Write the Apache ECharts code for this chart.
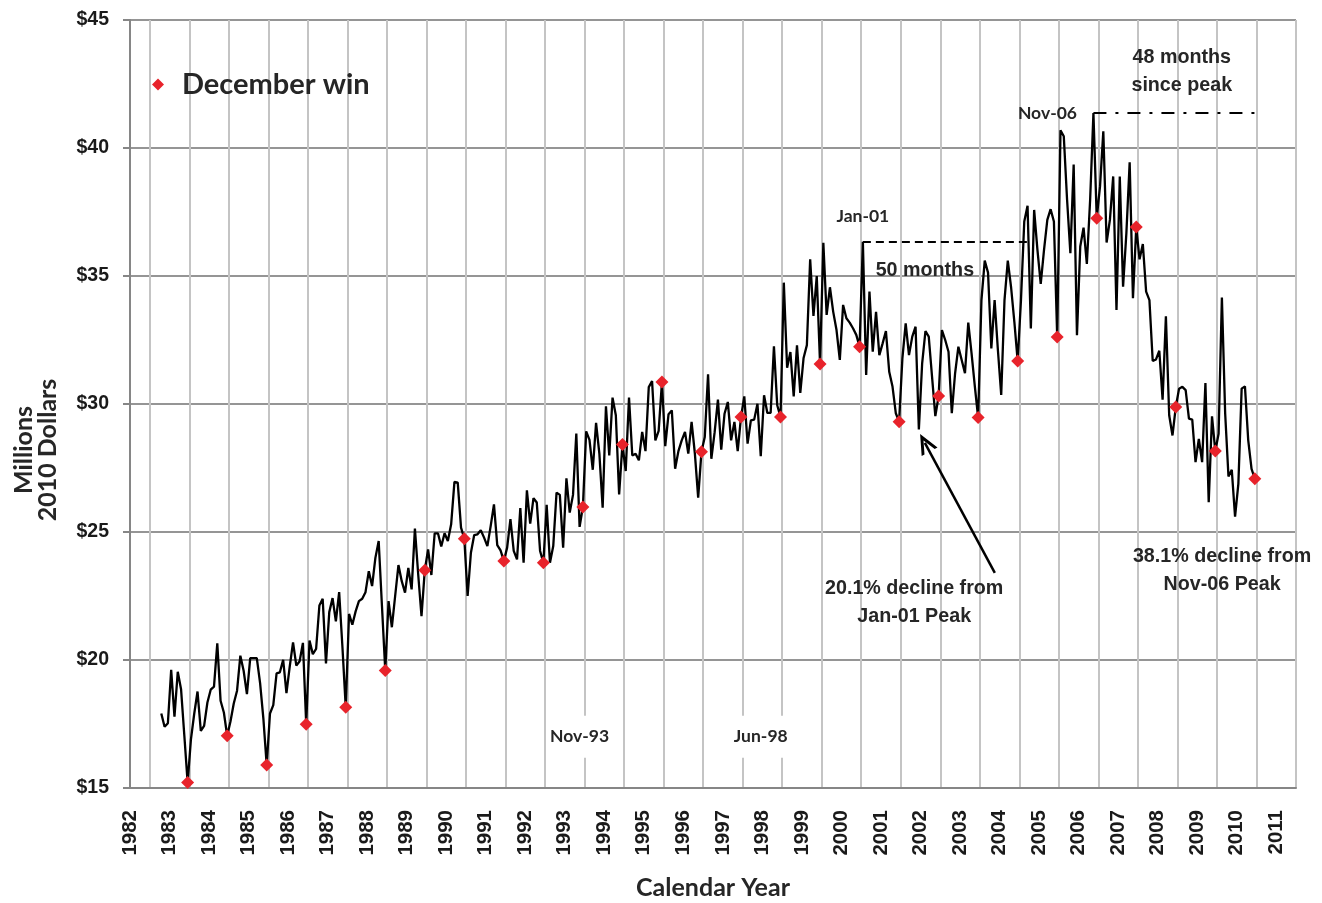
<!DOCTYPE html>
<html>
<head>
<meta charset="utf-8">
<script src="https://cdn.jsdelivr.net/npm/echarts@6/dist/echarts.min.js"></script>
<style>
  html, body { margin: 0; padding: 0; background: #fff; }
  #chart { width: 1322px; height: 903px; }
</style>
</head>
<body>
<div id="chart"></div>
<script>
// monthly values, millions of 2010 dollars; first point is Apr 1983
const firstYear = 1983;
const firstMonth = 4;
const sales1983 = [17.91, 17.39, 17.53, 19.62, 17.79, 19.54, 18.86, 17.04, 15.21];
const sales1984 = [16.9, 17.9, 18.77, 17.23, 17.43, 18.34, 18.84, 18.96, 20.65, 18.41, 17.95, 17.04];
const sales1985 = [17.6, 18.3, 18.8, 20.17, 19.58, 18.67, 20.07, 20.07, 20.07, 19.1, 17.7, 15.9];
const sales1986 = [17.91, 18.24, 19.48, 19.52, 20.01, 18.71, 19.75, 20.69, 19.78, 19.95, 20.67, 17.49];
const sales1987 = [20.76, 20.23, 20.43, 22.13, 22.39, 19.87, 21.87, 22.42, 21.51, 22.65, 20.5, 18.15];
const sales1988 = [21.8, 21.38, 21.9, 22.3, 22.39, 22.65, 23.47, 22.89, 23.99, 24.65, 22.1, 19.59];
const sales1989 = [22.3, 21.28, 22.5, 23.71, 23.08, 22.63, 23.6, 22.76, 25.13, 23.34, 21.71, 23.51];
const sales1990 = [24.32, 23.32, 24.95, 24.95, 24.43, 24.95, 24.65, 25.3, 26.96, 26.93, 25.17, 24.74];
const sales1991 = [22.5, 24.19, 24.88, 24.91, 25.07, 24.78, 24.45, 25.23, 26.08, 24.49, 24.28, 23.87];
const sales1992 = [24.39, 25.5, 24.26, 23.93, 25.93, 23.8, 26.63, 25.33, 26.32, 26.15, 24.26, 23.8];
const sales1993 = [26.06, 23.8, 24.45, 26.54, 26.45, 24.39, 27.1, 25.76, 26.45, 28.85, 25.2, 25.98];
const sales1994 = [28.93, 28.6, 27.43, 29.26, 28.06, 25.95, 29.91, 27.99, 30.25, 29.56, 26.47, 28.42];
const sales1995 = [27.38, 30.25, 27.99, 28.06, 27.8, 28.91, 28.16, 30.66, 30.9, 28.58, 28.95, 30.86];
const sales1996 = [28.35, 29.6, 29.75, 27.47, 28.16, 28.58, 28.91, 28.06, 29.3, 28.06, 26.34, 28.13];
const sales1997 = [28.71, 31.16, 27.86, 28.9, 30.17, 28.22, 29.62, 30.08, 28.58, 29.3, 28.16, 29.49];
const sales1998 = [30.3, 28.45, 29.36, 29.39, 30.01, 27.96, 30.34, 29.65, 29.65, 32.25, 29.95, 29.49];
const sales1999 = [34.74, 31.42, 32.03, 30.3, 32.29, 30.43, 31.8, 32.3, 35.65, 33.44, 35.0, 31.56];
const sales2000 = [36.3, 33.48, 34.56, 33.6, 32.89, 31.72, 33.87, 33.35, 33.18, 32.96, 32.7, 32.24];
const sales2001 = [36.34, 31.13, 34.39, 32.04, 33.6, 31.91, 32.37, 32.85, 31.26, 30.68, 29.64, 29.31];
const sales2002 = [31.78, 33.15, 31.91, 32.63, 33.02, 29.01, 31.59, 32.85, 32.63, 31.07, 29.53, 30.31];
const sales2003 = [32.89, 32.5, 32.04, 29.64, 31.2, 32.24, 31.72, 31.2, 33.18, 31.98, 30.68, 29.47];
const sales2004 = [34.06, 35.6, 35.13, 32.17, 34.06, 32.1, 30.35, 34.06, 35.6, 34.56, 33.2, 31.68];
const sales2005 = [34.06, 37.13, 37.74, 32.95, 37.58, 36.02, 34.69, 36.02, 37.19, 37.61, 37.13, 32.62];
const sales2006 = [40.69, 40.46, 37.98, 35.89, 39.35, 32.69, 36.15, 36.89, 35.47, 37.98, 41.37, 37.26];
const sales2007 = [38.5, 40.65, 36.31, 37.19, 38.89, 33.67, 38.89, 34.58, 36.67, 39.44, 34.13, 36.91];
const sales2008 = [35.65, 36.25, 34.39, 34.06, 31.68, 31.74, 32.08, 30.17, 33.43, 29.56, 28.77, 29.88];
const sales2009 = [30.6, 30.67, 30.54, 29.43, 29.39, 27.73, 28.64, 27.73, 30.82, 26.16, 29.52, 28.16];
const sales2010 = [28.84, 34.16, 29.62, 27.17, 27.43, 25.6, 26.88, 30.6, 30.69, 28.58, 27.47, 27.08];

const yearLabels = ['1982', '1983', '1984', '1985', '1986', '1987', '1988', '1989', '1990', '1991',
  '1992', '1993', '1994', '1995', '1996', '1997', '1998', '1999', '2000', '2001',
  '2002', '2003', '2004', '2005', '2006', '2007', '2008', '2009', '2010', '2011'];

const allYears = [sales1983, sales1984, sales1985, sales1986, sales1987, sales1988, sales1989,
  sales1990, sales1991, sales1992, sales1993, sales1994, sales1995, sales1996, sales1997,
  sales1998, sales1999, sales2000, sales2001, sales2002, sales2003, sales2004, sales2005,
  sales2006, sales2007, sales2008, sales2009, sales2010];

// month -> position on a fractional-year axis (middle of the month)
function monthPos(year, month) {
  return year + (month - 0.5) / 12;
}

const points = [];
allYears.forEach((arr, i) => {
  const year = firstYear + i;
  const m0 = i === 0 ? firstMonth : 1;
  arr.forEach((v, j) => {
    points.push({ year: year, month: m0 + j, value: v });
  });
});
const lineData = points.map(p => [monthPos(p.year, p.month), p.value]);
const decemberData = points.filter(p => p.month === 12).map(p => [monthPos(p.year, p.month), p.value]);

const jan01Peak = sales2001[0];
const nov06Peak = sales2006[10];

const boldArial = '"Liberation Sans", Arial, sans-serif';
const calibri = 'Lato, "Open Sans", sans-serif';

function note(text, x, y, style) {
  return {
    coord: [x, y],
    value: text,
    symbolSize: 0,
    label: Object.assign({
      show: true,
      position: 'inside',
      formatter: text,
      color: '#262626',
      fontWeight: 'bold',
      fontFamily: boldArial,
      fontSize: 19.7,
      lineHeight: 28,
      align: 'center',
      verticalAlign: 'middle'
    }, style || {})
  };
}

const chart = echarts.init(document.getElementById('chart'));
chart.setOption({
  animation: false,
  backgroundColor: '#fff',
  grid: { left: 130, right: 26, top: 20, bottom: 115, outerBoundsMode: 'none', containLabel: false },
  legend: {
    data: [{ name: 'December win', icon: 'diamond' }],
    left: 147,
    top: 65,
    itemWidth: 12,
    itemHeight: 12,
    textStyle: {
      fontFamily: calibri,
      fontWeight: 'bold',
      fontSize: 29,
      color: '#262626',
      padding: [0, 0, 0, 13]
    }
  },
  xAxis: {
    type: 'value',
    min: 1982.5,
    max: 2012,
    interval: 0.5,
    name: 'Calendar Year',
    nameLocation: 'middle',
    nameGap: 87,
    nameTextStyle: { fontFamily: calibri, fontWeight: 'bold', fontSize: 25, color: '#262626' },
    axisLine: { lineStyle: { color: '#868686', width: 2 } },
    axisTick: { show: false },
    splitLine: {
      show: true,
      lineStyle: { color: ['rgba(0,0,0,0)', '#c4c4c4'], width: 2 }
    },
    axisLabel: {
      rotate: 90,
      margin: 22,
      color: '#1a1a1a',
      fontFamily: boldArial,
      fontWeight: 'bold',
      fontSize: 20.5,
      showMinLabel: true,
      showMaxLabel: true,
      formatter: function (v) {
        const k = Math.round((v - 1982.5) * 2);
        return k % 2 === 0 ? yearLabels[k / 2] : '';
      }
    }
  },
  yAxis: {
    type: 'value',
    min: 15,
    max: 45,
    interval: 5,
    name: 'Millions\n2010 Dollars',
    nameLocation: 'middle',
    nameRotate: 90,
    nameGap: 70,
    nameTextStyle: {
      fontFamily: calibri, fontWeight: 'bold', fontSize: 25, color: '#262626', lineHeight: 24,
      padding: [0, 92, 0, 0]
    },
    axisLine: { show: true, lineStyle: { color: '#868686', width: 2 } },
    axisTick: { show: true, length: 7, lineStyle: { color: '#868686', width: 2 } },
    splitLine: { lineStyle: { color: '#959595', width: 2 } },
    axisLabel: {
      margin: 21,
      color: '#1a1a1a',
      fontFamily: boldArial,
      fontWeight: 'bold',
      fontSize: 19.5,
      formatter: '${value}'
    }
  },
  series: [
    {
      name: 'Sales',
      type: 'line',
      data: lineData,
      showSymbol: false,
      lineStyle: { color: '#000', width: 2.3 },
      itemStyle: { color: '#000' },
      z: 2,
      markLine: {
        silent: true,
        symbol: ['none', 'none'],
        label: { show: false },
        lineStyle: { color: '#000', width: 2 },
        data: [
          [
            { coord: [monthPos(2001, 1), jan01Peak], lineStyle: { color: '#000', width: 2, type: [8, 5] } },
            { coord: [monthPos(2005, 3), jan01Peak] }
          ],
          [
            { coord: [monthPos(2006, 11), nov06Peak], lineStyle: { color: '#000', width: 2, type: [13, 9, 3, 9] } },
            { coord: [2011, nov06Peak] }
          ],
          [
            { coord: [2004.38, 23.4], symbol: 'none', lineStyle: { color: '#000', width: 2.5, type: 'solid' } },
            { coord: [2002.61, 28.48], symbol: 'path://M0,14 L7,0 L14,14 L11.5,14 L7,5 L2.5,14 Z', symbolSize: [18, 20] }
          ]
        ]
      },
      markPoint: {
        silent: true,
        data: [
          note('Jan-01', monthPos(2001, 1), jan01Peak, { fontFamily: calibri, fontSize: 17.5, offset: [0, -25] }),
          note('Nov-06', monthPos(2006, 11), nov06Peak, { fontFamily: calibri, fontSize: 17.5, offset: [-46, 0] }),
          note('50 months', 2002.61, 35.2),
          note('48 months\nsince peak', 2009.11, 42.97),
          note('20.1% decline from\nJan-01 Peak', 2002.34, 22.23),
          note('38.1% decline from\nNov-06 Peak', 2010.13, 23.48),
          note('Nov-93', monthPos(1993, 11), 17.0, { fontFamily: calibri, fontSize: 17.5, backgroundColor: '#fff', padding: [7, 4] }),
          note('Jun-98', monthPos(1998, 6), 17.0, { fontFamily: calibri, fontSize: 17.5, backgroundColor: '#fff', padding: [7, 4] })
        ]
      }
    },
    {
      name: 'December win',
      type: 'scatter',
      data: decemberData,
      symbol: 'diamond',
      symbolSize: 13,
      itemStyle: { color: '#e8232b', opacity: 1 },
      z: 3
    }
  ]
});
</script>
</body>
</html>
